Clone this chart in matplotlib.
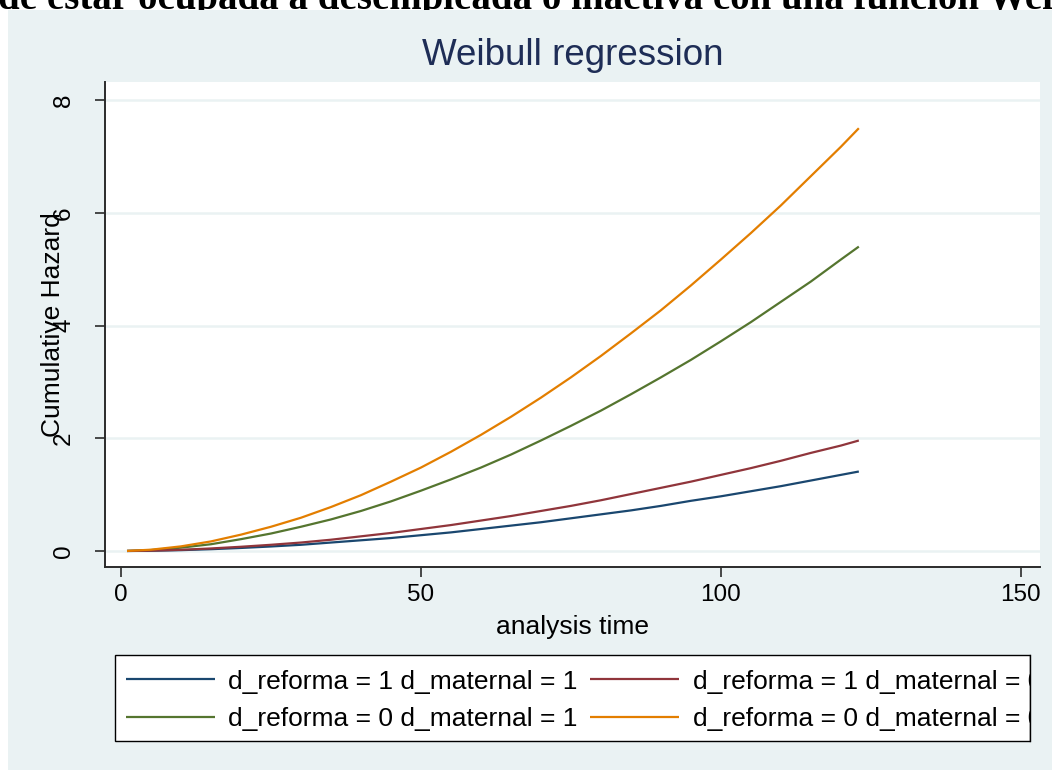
"""
Weibull regression - cumulative hazard by d_reforma / d_maternal
"""
import matplotlib
matplotlib.use("Agg")
import matplotlib.pyplot as plt
from matplotlib.patches import Rectangle
from matplotlib.lines import Line2D

# Data
time = [1, 5, 10, 15, 20, 25, 30, 35, 40, 45, 50, 55, 60, 65, 70, 75, 80, 85,
        90, 95, 100, 105, 110, 115, 120, 123]
h_r1_m1 = [0.0002, 0.004, 0.015, 0.032, 0.054, 0.08, 0.11, 0.15, 0.19, 0.23, 0.28, 0.33, 0.39,
           0.45, 0.51, 0.58, 0.65, 0.72, 0.80, 0.89, 0.97, 1.06, 1.15, 1.25, 1.35, 1.41]
h_r1_m0 = [0.0003, 0.006, 0.021, 0.045, 0.075, 0.11, 0.15, 0.20, 0.26, 0.32, 0.39, 0.46, 0.54,
           0.62, 0.71, 0.80, 0.90, 1.01, 1.12, 1.23, 1.35, 1.47, 1.60, 1.74, 1.87, 1.96]
h_r0_m1 = [0.001, 0.017, 0.059, 0.12, 0.21, 0.31, 0.43, 0.56, 0.71, 0.88, 1.07, 1.27, 1.48,
           1.71, 1.96, 2.22, 2.49, 2.78, 3.08, 3.39, 3.72, 4.06, 4.42, 4.78, 5.17, 5.40]
h_r0_m0 = [0.001, 0.023, 0.082, 0.17, 0.29, 0.43, 0.59, 0.78, 0.99, 1.23, 1.48, 1.76, 2.06,
           2.38, 2.72, 3.08, 3.46, 3.86, 4.27, 4.71, 5.17, 5.64, 6.13, 6.65, 7.17, 7.50]

labels = ["d_reforma = 1 d_maternal = 1", "d_reforma = 0 d_maternal = 1",
          "d_reforma = 1 d_maternal = 0", "d_reforma = 0 d_maternal = 0"]
series = [h_r1_m1, h_r0_m1, h_r1_m0, h_r0_m0]
colors = ["#1A476F", "#55752F", "#90353B", "#E37E00"]

x_ticks = [0, 50, 100, 150]
y_ticks = [0, 2, 4, 6, 8]

W, H = 1052, 770
bg = "#EAF2F3"
fs = 19

plt.rcParams['font.family'] = ['Liberation Sans', 'DejaVu Sans']

fig = plt.figure(figsize=(W / 100, H / 100), dpi=100)
fig.patch.set_facecolor("white")

# cut-off document text above the graph
fig.text(-2 / W, 1 - 8.5 / H, "de estar ocupada a desempleada o inactiva con una función Weibull",
         family="Liberation Serif", weight="bold", fontsize=28, ha="left", va="baseline",
         color="black", zorder=0)

# Stata graph region
fig.patches.append(Rectangle((8 / W, 0), 1 - 8 / W, 1 - 10 / H, transform=fig.transFigure,
                             facecolor=bg, edgecolor="none", zorder=1))

ax = fig.add_axes([105 / W, 1 - 567 / H, (1040 - 105) / W, (567 - 82) / H])
ax.set_zorder(2)
ax.set_facecolor("white")

for vals, col, lab in zip(series, colors, labels):
    ax.plot(time, vals, color=col, lw=1.6, label=lab, solid_capstyle="butt")

ax.set_xlim(-2.67, 153.2)
ax.set_ylim(-0.284, 8.32)
ax.set_xticks(x_ticks)
ax.set_yticks(y_ticks)
ax.grid(axis="y", color=bg, lw=1.8)
ax.set_axisbelow(True)

for s in ["top", "right"]:
    ax.spines[s].set_visible(False)
for s in ["left", "bottom"]:
    ax.spines[s].set_color("#2b2b2b")
    ax.spines[s].set_linewidth(1.4)

ax.tick_params(axis="both", length=7.5, width=1.2, color="#2b2b2b", labelsize=17.5)
ax.tick_params(axis="x", pad=5)
ax.tick_params(axis="y", pad=14, labelrotation=90)
for t in ax.get_yticklabels():
    t.set_va("center")

ax.set_title("Weibull regression", fontsize=26.5, color="#1E2D56", pad=12)
ax.set_xlabel("analysis time", fontsize=fs)
ax.xaxis.set_label_coords(0.5, -0.098)
ax.set_ylabel("Cumulative Hazard", fontsize=fs, va="center")
ax.yaxis.set_label_coords((53 - 105) / 935, 0.5)

# legend box (text runs past the right border, as in the original)
box = (115, 655, 1030, 741)
fig.patches.append(Rectangle((box[0] / W, 1 - box[3] / H), (box[2] - box[0]) / W,
                             (box[3] - box[1]) / H, transform=fig.transFigure,
                             facecolor="white", edgecolor="black", lw=1.0, zorder=2.5))
leg = fig.legend(loc="upper left", bbox_to_anchor=(box[0] / W, 1 - (box[1] + 4) / H), ncol=2,
                 fontsize=fs, frameon=False, borderaxespad=0,
                 handlelength=3.4, handletextpad=0.5, columnspacing=0.45,
                 labelspacing=0.5, borderpad=0.4)
leg.set_zorder(3)
# hide the overflow past the right border, then redraw the border on top
fig.patches.append(Rectangle(((box[2] + 0.5) / W, 1 - (box[3] + 1) / H), (W - box[2]) / W,
                             (box[3] - box[1] + 2) / H, transform=fig.transFigure,
                             facecolor=bg, edgecolor="none", zorder=4))
fig.lines.append(Line2D([box[2] / W, box[2] / W], [1 - box[3] / H, 1 - box[1] / H],
                        transform=fig.transFigure, color="black", lw=1.0, zorder=5))

plt.savefig("out.png", dpi=100)
print("saved out.png")
